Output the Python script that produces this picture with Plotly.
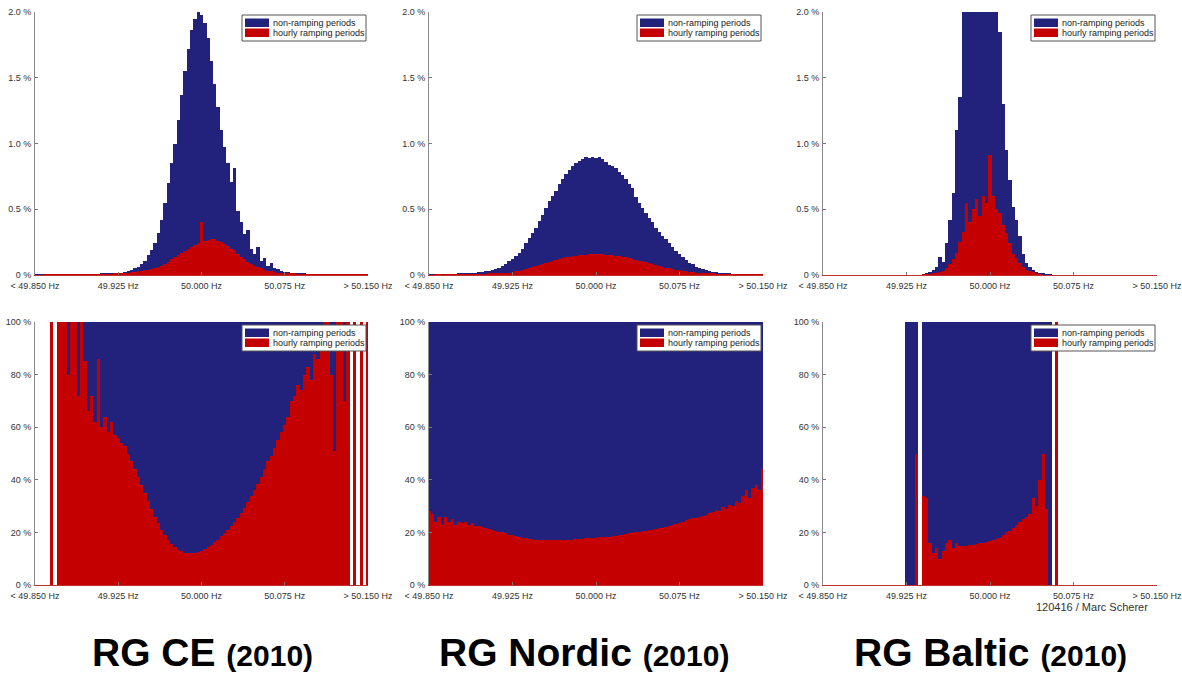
import plotly.graph_objects as go

W, H = 1182, 673

# ---------------- data ----------------
# frequency bins (Hz), 3 mHz wide, from 49.850 to 50.150
FREQ = [round(49.85 + 0.003 * i, 3) for i in range(101)]

X_TICKVALS = [49.85, 49.925, 50.0, 50.075, 50.15]
X_TICKTEXT = ["< 49.850 Hz", "49.925 Hz", "50.000 Hz", "50.075 Hz", "> 50.150 Hz"]
Y_TOP_TICKVALS = [0, 0.5, 1.0, 1.5, 2.0]
Y_TOP_TICKTEXT = ["0 %", "0.5 %", "1.0 %", "1.5 %", "2.0 %"]
Y_BOT_TICKVALS = [0, 20, 40, 60, 80, 100]
Y_BOT_TICKTEXT = ["0 %", "20 %", "40 %", "60 %", "80 %", "100 %"]

REGIONS = ["RG CE", "RG Nordic", "RG Baltic"]
YEAR = "(2010)"
SERIES_NAMES = ["non-ramping periods", "hourly ramping periods"]
CREDIT = "120416 / Marc Scherer"

# top row: share of all samples (%) per bin - total height and ramping part
CE_TOTAL = [
    0.001, 0.001, 0.001, 0.001, 0.001, 0.002, 0.002, 0.002, 0.002, 0.003,
    0.003, 0.003, 0.004, 0.004, 0.004, 0.005, 0.005, 0.006, 0.006, 0.007,
    0.008, 0.009, 0.010, 0.012, 0.014, 0.016, 0.019, 0.023, 0.030, 0.038,
    0.050, 0.062, 0.085, 0.11, 0.15, 0.19, 0.24, 0.32, 0.42, 0.55,
    0.70, 0.85, 1.00, 1.18, 1.37, 1.55, 1.72, 1.86, 1.95, 2.00,
    1.98, 1.92, 1.80, 1.63, 1.45, 1.28, 1.10, 0.97, 0.85, 0.71,
    0.81, 0.49, 0.40, 0.31, 0.34, 0.20, 0.16, 0.21, 0.11, 0.13,
    0.07, 0.09, 0.05, 0.045, 0.03, 0.025, 0.02, 0.016, 0.013, 0.011,
    0.009, 0.008, 0.007, 0.006, 0.005, 0.005, 0.004, 0.004, 0.003, 0.003,
    0.003, 0.002, 0.002, 0.002, 0.002, 0.002, 0.002, 0.002, 0.002, 0.002, 0.003,
]
CE_RAMP = [
    0.000, 0.000, 0.000, 0.001, 0.001, 0.001, 0.001, 0.001, 0.001, 0.001,
    0.001, 0.001, 0.002, 0.002, 0.002, 0.002, 0.003, 0.003, 0.003, 0.004,
    0.004, 0.005, 0.006, 0.007, 0.008, 0.010, 0.012, 0.014, 0.017, 0.020,
    0.024, 0.028, 0.032, 0.036, 0.040, 0.042, 0.050, 0.058, 0.070, 0.085,
    0.10, 0.12, 0.135, 0.15, 0.165, 0.18, 0.195, 0.21, 0.225, 0.24,
    0.40, 0.255, 0.265, 0.27, 0.27, 0.26, 0.25, 0.235, 0.22, 0.20,
    0.19, 0.16, 0.14, 0.12, 0.10, 0.085, 0.07, 0.06, 0.05, 0.04,
    0.033, 0.027, 0.022, 0.018, 0.015, 0.012, 0.010, 0.009, 0.008, 0.007,
    0.006, 0.005, 0.005, 0.004, 0.004, 0.003, 0.003, 0.003, 0.002, 0.002,
    0.002, 0.001, 0.001, 0.001, 0.001, 0.001, 0.001, 0.001, 0.001, 0.001, 0.001,
]
NORDIC_TOTAL = [
    0.001, 0.001, 0.002, 0.002, 0.003, 0.003, 0.004, 0.005, 0.006, 0.008,
    0.009, 0.011, 0.013, 0.015, 0.018, 0.022, 0.025, 0.028, 0.033, 0.040,
    0.047, 0.056, 0.070, 0.085, 0.105, 0.125, 0.145, 0.17, 0.20, 0.24,
    0.28, 0.32, 0.36, 0.41, 0.46, 0.51, 0.56, 0.60, 0.64, 0.69,
    0.73, 0.77, 0.80, 0.83, 0.85, 0.87, 0.88, 0.90, 0.89, 0.90,
    0.89, 0.90, 0.88, 0.86, 0.84, 0.83, 0.81, 0.78, 0.76, 0.73,
    0.69, 0.66, 0.59, 0.55, 0.51, 0.47, 0.43, 0.40, 0.36, 0.33,
    0.30, 0.27, 0.24, 0.21, 0.18, 0.16, 0.135, 0.115, 0.095, 0.08,
    0.063, 0.055, 0.048, 0.040, 0.033, 0.026, 0.021, 0.017, 0.014, 0.011,
    0.009, 0.007, 0.006, 0.005, 0.004, 0.003, 0.003, 0.002, 0.002, 0.002, 0.003,
]
NORDIC_RAMP = [
    0.000, 0.000, 0.001, 0.001, 0.001, 0.001, 0.001, 0.001, 0.002, 0.002,
    0.002, 0.003, 0.003, 0.004, 0.004, 0.005, 0.006, 0.007, 0.008, 0.009,
    0.010, 0.012, 0.014, 0.016, 0.019, 0.024, 0.028, 0.033, 0.038, 0.045,
    0.052, 0.059, 0.066, 0.073, 0.082, 0.091, 0.098, 0.105, 0.112, 0.12,
    0.128, 0.134, 0.139, 0.143, 0.147, 0.151, 0.153, 0.155, 0.156, 0.157,
    0.157, 0.157, 0.156, 0.155, 0.153, 0.150, 0.147, 0.144, 0.140, 0.135,
    0.128, 0.122, 0.116, 0.110, 0.103, 0.096, 0.089, 0.082, 0.076, 0.069,
    0.063, 0.057, 0.051, 0.046, 0.041, 0.037, 0.032, 0.028, 0.024, 0.020,
    0.016, 0.014, 0.012, 0.010, 0.009, 0.008, 0.007, 0.006, 0.005, 0.004,
    0.003, 0.003, 0.002, 0.002, 0.002, 0.001, 0.001, 0.001, 0.001, 0.001, 0.001,
]
BALTIC_TOTAL = [
    0, 0, 0, 0, 0, 0, 0, 0, 0, 0,
    0, 0, 0, 0, 0, 0, 0, 0, 0, 0,
    0, 0, 0, 0, 0, 0, 0, 0, 0, 0,
    0.005, 0.01, 0.02, 0.035, 0.06, 0.14, 0.10, 0.24, 0.42, 0.62,
    1.10, 1.35, 2.4, 2.6, 3.0, 3.2, 3.4, 3.3, 3.5, 3.4,
    3.6, 3.1, 2.5, 1.85, 1.30, 0.95, 0.72, 0.52, 0.42, 0.30,
    0.16, 0.09, 0.06, 0.04, 0.02, 0.013, 0.008, 0.004, 0.002, 0,
    0, 0, 0, 0, 0, 0, 0, 0, 0, 0,
    0, 0, 0, 0, 0, 0, 0, 0, 0, 0,
    0, 0, 0, 0, 0, 0, 0, 0, 0, 0, 0,
]
BALTIC_RAMP = [
    0, 0, 0, 0, 0, 0, 0, 0, 0, 0,
    0, 0, 0, 0, 0, 0, 0, 0, 0, 0,
    0, 0, 0, 0, 0, 0, 0, 0, 0, 0,
    0.002, 0.004, 0.006, 0.01, 0.015, 0.02, 0.03, 0.05, 0.08, 0.12,
    0.17, 0.25, 0.33, 0.55, 0.40, 0.50, 0.58, 0.45, 0.60, 0.55,
    0.91, 0.60, 0.50, 0.47, 0.38, 0.32, 0.24, 0.16, 0.13, 0.09,
    0.06, 0.04, 0.03, 0.02, 0.01, 0.005, 0, 0, 0, 0,
    0, 0, 0, 0, 0, 0, 0, 0, 0, 0,
    0, 0, 0, 0, 0, 0, 0, 0, 0, 0,
    0, 0, 0, 0, 0, 0, 0, 0, 0, 0, 0,
]

# bottom row: share of hourly ramping periods within each bin (%); None = no samples
CE_SHARE = [
    None, None, None, None, None, 100, None, 100, 100, 100,
    80, 100, 100, 72, 100, 85, 66, 72, 62, 86,
    60, 64, 58, 62, 57, 56, 54, 53, 50, 47,
    44, 41, 38, 35, 32, 29, 26, 23.5, 21, 19,
    17, 15.5, 14.3, 13.4, 12.8, 12.3, 12.1, 12.0, 12.2, 12.6,
    13.0, 13.6, 14.3, 15.2, 16.2, 17.3, 18.5, 19.8, 21.0, 22.3,
    23.8, 25.4, 27.2, 29.2, 31.4, 33.7, 36, 38.5, 41, 44,
    47, 49, 52, 55, 58, 61, 64, 70, 72, 76,
    74, 80, 83, 78, 88, 86, 95, 100, 100, 80,
    51, 100, 100, 70, 100, None, 100, None, 100, None, 100,
]
NORDIC_SHARE = [
    28, 27, 24, 26, 23, 26, 24, 25, 23, 24,
    23.5, 24, 23, 23.5, 22.5, 22.5, 22, 21.5, 21.3, 21,
    20.6, 20.3, 20, 19.6, 19.2, 18.9, 18.6, 18.3, 18, 17.8,
    17.6, 17.4, 17.3, 17.2, 17.1, 17.1, 17.1, 17.1, 17.1, 17.1,
    17.2, 17.2, 17.3, 17.3, 17.4, 17.5, 17.6, 17.7, 17.8, 17.9,
    18, 18.1, 18.2, 18.3, 18.4, 18.5, 18.7, 18.9, 19.1, 19.4,
    19.6, 19.8, 20, 20.2, 20.4, 20.6, 20.8, 21, 21.3, 21.5,
    21.8, 22.1, 22.5, 22.9, 23.3, 23.6, 24.1, 24.6, 25, 25.3,
    25.6, 26, 26.3, 26.8, 27.2, 27.8, 28.5, 28.2, 29.5, 29,
    30.5, 30, 32, 31, 34, 36, 33, 37, 38, 36, 44,
]
BALTIC_SHARE = [
    None, None, None, None, None, None, None, None, None, None,
    None, None, None, None, None, None, None, None, None, None,
    None, None, None, None, None, 0, 0, 0, 50, None,
    34, 33, 16, 12, 14, 10, 13, 16, 17, 14,
    16, 15, 15, 15, 15.2, 15.4, 15.6, 15.8, 16, 16.3,
    16.6, 17, 17.5, 18, 19, 20, 20.5, 21.5, 23, 24,
    25, 26, 27, 33, 30, 40, 50, 29, 0, None,
    100, None, None, None, None, None, None, None, None, None,
    None, None, None, None, None, None, None, None, None, None,
    None, None, None, None, None, None, None, None, None, None, None,
]

TOP_DATA = [(CE_TOTAL, CE_RAMP), (NORDIC_TOTAL, NORDIC_RAMP), (BALTIC_TOTAL, BALTIC_RAMP)]
BOT_DATA = [CE_SHARE, NORDIC_SHARE, BALTIC_SHARE]

# ---------------- style / layout ----------------
BLUE = "#22227c"
RED = "#c40000"
FONT = "Liberation Sans, Arial, sans-serif"
TICK_FONT = dict(family=FONT, size=9, color="#333333")
BIN_W = 0.003

COLS_PX = [(35, 368), (429, 763), (823, 1157)]
ROWS_PX = [(12, 275), (322, 585)]


def px_x(p):
    return p / W


def px_y(p):
    return 1 - p / H


fig = go.Figure()
layout = dict(
    template="none",
    width=W, height=H, autosize=False, margin=dict(l=0, r=0, t=0, b=0, pad=0),
    paper_bgcolor="white", plot_bgcolor="white",
    barmode="overlay", bargap=0, showlegend=False,
    font=dict(family=FONT),
)

shapes = []
annotations = []

for r, (ytop, ybot) in enumerate(ROWS_PX):
    for c, (xl, xr) in enumerate(COLS_PX):
        n = r * 3 + c + 1
        xa = "x" if n == 1 else f"x{n}"
        ya = "y" if n == 1 else f"y{n}"
        xkey = "xaxis" if n == 1 else f"xaxis{n}"
        ykey = "yaxis" if n == 1 else f"yaxis{n}"

        if r == 0:
            total, ramp = TOP_DATA[c]
            blue_y, red_y = total, ramp
            yrange = [0, 2.0]
            ytv, ytt = Y_TOP_TICKVALS, Y_TOP_TICKTEXT
        else:
            share = BOT_DATA[c]
            blue_y = [None if s is None else 100 for s in share]
            red_y = share
            yrange = [0, 100]
            ytv, ytt = Y_BOT_TICKVALS, Y_BOT_TICKTEXT

        fig.add_trace(go.Bar(
            x=FREQ, y=blue_y, width=BIN_W, name=SERIES_NAMES[0],
            marker=dict(color=BLUE, line=dict(width=0)), opacity=1,
            xaxis=xa, yaxis=ya, hoverinfo="skip"))
        fig.add_trace(go.Bar(
            x=FREQ, y=red_y, width=BIN_W, name=SERIES_NAMES[1],
            marker=dict(color=RED, line=dict(width=0)), opacity=1,
            xaxis=xa, yaxis=ya, hoverinfo="skip"))

        layout[xkey] = dict(
            domain=[px_x(xl), px_x(xr)], anchor=ya, range=[49.85, 50.15],
            tickmode="array", tickvals=X_TICKVALS, ticktext=X_TICKTEXT,
            ticks="inside", ticklen=3, tickcolor="#777777",
            showline=True, linecolor="#c03030", linewidth=1,
            showgrid=False, zeroline=False, tickfont=TICK_FONT,
            ticklabelstandoff=2, automargin=False, fixedrange=True)
        layout[ykey] = dict(
            domain=[px_y(ybot), px_y(ytop)], anchor=xa, range=yrange,
            tickmode="array", tickvals=ytv, ticktext=ytt,
            ticks="inside", ticklen=3, tickcolor="#777777",
            showline=True, linecolor="#8a8a8a", linewidth=1,
            showgrid=False, zeroline=False, tickfont=TICK_FONT,
            ticklabelstandoff=1, automargin=False, fixedrange=True)

        # legend box (drawn manually, Matlab style)
        bx1 = xr - 2
        bx0 = bx1 - 124
        by0 = ytop + 3
        by1 = by0 + 26
        shapes.append(dict(type="rect", xref="paper", yref="paper",
                           x0=px_x(bx0), x1=px_x(bx1), y0=px_y(by1), y1=px_y(by0),
                           fillcolor="white", line=dict(color="#555555", width=1), layer="above"))
        for k, (col, yoff) in enumerate([(BLUE, 3.5), (RED, 13.5)]):
            shapes.append(dict(type="rect", xref="paper", yref="paper",
                               x0=px_x(bx0 + 3), x1=px_x(bx0 + 27),
                               y0=px_y(by0 + yoff + 8.5), y1=px_y(by0 + yoff),
                               fillcolor=col, line=dict(width=0), layer="above"))
            annotations.append(dict(
                xref="paper", yref="paper", x=px_x(bx0 + 29), y=px_y(by0 + yoff + 4.3),
                xanchor="left", yanchor="middle", showarrow=False,
                text=SERIES_NAMES[k], font=dict(family=FONT, size=9, color="#222222")))

# region titles
TITLE_X = [202, 584, 990]
for c, name in enumerate(REGIONS):
    annotations.append(dict(
        xref="paper", yref="paper", x=px_x(TITLE_X[c]), y=px_y(652),
        xanchor="center", yanchor="middle", showarrow=False,
        text=f"<b>{name} <span style='font-size:30px'>{YEAR}</span></b>",
        font=dict(family=FONT, size=39, color="#000000")))

annotations.append(dict(
    xref="paper", yref="paper", x=px_x(1150), y=px_y(607),
    xanchor="right", yanchor="middle", showarrow=False, text=CREDIT,
    font=dict(family=FONT, size=11, color="#333333")))

layout["shapes"] = shapes
layout["annotations"] = annotations
fig.update_layout(**layout)

fig.write_html("out.html")
